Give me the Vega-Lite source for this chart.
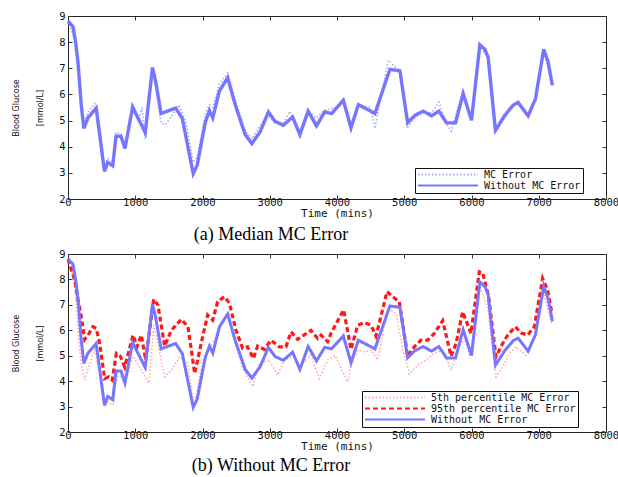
{
  "$schema": "https://vega.github.io/schema/vega-lite/v6.json",
  "autosize": {"type": "pad"},
  "padding": {"left": 11, "top": 10, "right": 0, "bottom": 0},
  "background": "white",
  "bounds": "flush",
  "spacing": 55,
  "config": {
    "view": {"stroke": "#222", "strokeWidth": 1},
    "axis": {"grid": false, "domain": false, "tickSize": -4, "tickColor": "#333", "labelFont": "DejaVu Sans Mono", "labelFontSize": 10.5, "labelColor": "#111", "labelFlush": false, "titleFont": "DejaVu Sans Mono", "titleFontSize": 11, "titleFontWeight": "normal", "titleColor": "#111"}
  },
  "datasets": {
    "blue": [
      {"t":0,"v":8.8},{"t":74,"v":8.6},{"t":113,"v":8.0},{"t":148,"v":7.24},{"t":197,"v":5.6},{"t":236,"v":4.7},{"t":296,"v":5.1},{"t":419,"v":5.48},{"t":542,"v":3.06},{"t":591,"v":3.4},{"t":665,"v":3.27},{"t":714,"v":4.4},{"t":788,"v":4.4},{"t":847,"v":3.93},{"t":961,"v":5.52},{"t":1148,"v":4.54},{"t":1256,"v":7.03},{"t":1305,"v":6.48},{"t":1384,"v":5.27},{"t":1601,"v":5.48},{"t":1700,"v":5.08},{"t":1862,"v":2.97},{"t":1921,"v":3.29},{"t":1995,"v":4.31},{"t":2044,"v":4.95},{"t":2103,"v":5.38},{"t":2153,"v":5.1},{"t":2251,"v":6.13},{"t":2374,"v":6.64},{"t":2488,"v":5.59},{"t":2635,"v":4.46},{"t":2734,"v":4.12},{"t":2857,"v":4.57},{"t":2980,"v":5.33},{"t":3079,"v":4.97},{"t":3202,"v":4.82},{"t":3340,"v":5.14},{"t":3448,"v":4.46},{"t":3571,"v":5.36},{"t":3695,"v":4.8},{"t":3818,"v":5.33},{"t":3920,"v":5.27},{"t":4094,"v":5.78},{"t":4208,"v":4.72},{"t":4317,"v":5.61},{"t":4564,"v":5.27},{"t":4787,"v":6.96},{"t":4936,"v":6.9},{"t":5050,"v":4.92},{"t":5158,"v":5.2},{"t":5282,"v":5.36},{"t":5406,"v":5.18},{"t":5515,"v":5.36},{"t":5629,"v":4.91},{"t":5762,"v":4.91},{"t":5876,"v":6.03},{"t":6000,"v":5.01},{"t":6124,"v":7.9},{"t":6198,"v":7.73},{"t":6248,"v":7.41},{"t":6356,"v":4.63},{"t":6495,"v":5.2},{"t":6619,"v":5.59},{"t":6693,"v":5.69},{"t":6842,"v":5.18},{"t":6950,"v":5.82},{"t":7074,"v":7.73},{"t":7139,"v":7.24},{"t":7203,"v":6.35}
    ],
    "mc": [
      {"t":0,"v":8.8},{"t":113,"v":8.0},{"t":197,"v":5.7},{"t":236,"v":4.9},{"t":296,"v":5.3},{"t":400,"v":5.65},{"t":440,"v":5.4},{"t":542,"v":3.3},{"t":591,"v":3.55},{"t":665,"v":3.4},{"t":714,"v":4.55},{"t":788,"v":4.5},{"t":847,"v":4.1},{"t":961,"v":5.4},{"t":1050,"v":5.0},{"t":1100,"v":5.5},{"t":1148,"v":4.3},{"t":1256,"v":6.8},{"t":1305,"v":6.3},{"t":1384,"v":4.9},{"t":1450,"v":4.85},{"t":1550,"v":5.2},{"t":1650,"v":5.6},{"t":1750,"v":5.0},{"t":1862,"v":3.4},{"t":1921,"v":3.6},{"t":1995,"v":4.6},{"t":2044,"v":5.3},{"t":2103,"v":5.6},{"t":2153,"v":5.5},{"t":2251,"v":6.4},{"t":2374,"v":6.82},{"t":2488,"v":5.8},{"t":2635,"v":4.6},{"t":2734,"v":4.3},{"t":2857,"v":4.8},{"t":2980,"v":5.2},{"t":3079,"v":4.9},{"t":3202,"v":4.9},{"t":3300,"v":5.35},{"t":3448,"v":4.6},{"t":3571,"v":5.4},{"t":3695,"v":5.1},{"t":3818,"v":5.4},{"t":3990,"v":5.5},{"t":4094,"v":5.75},{"t":4208,"v":4.8},{"t":4317,"v":5.6},{"t":4500,"v":5.5},{"t":4564,"v":4.7},{"t":4760,"v":7.3},{"t":4936,"v":6.9},{"t":5050,"v":4.76},{"t":5158,"v":5.1},{"t":5282,"v":5.3},{"t":5406,"v":5.3},{"t":5515,"v":5.7},{"t":5629,"v":4.85},{"t":5700,"v":4.6},{"t":5876,"v":6.2},{"t":6000,"v":5.0},{"t":6124,"v":7.85},{"t":6248,"v":7.4},{"t":6356,"v":4.55},{"t":6495,"v":5.1},{"t":6619,"v":5.6},{"t":6693,"v":5.75},{"t":6842,"v":5.2},{"t":6950,"v":5.85},{"t":7074,"v":7.7},{"t":7203,"v":6.3}
    ],
    "p95": [
      {"t":0,"v":8.8},{"t":99,"v":7.98},{"t":149,"v":7.2},{"t":198,"v":6.53},{"t":248,"v":5.64},{"t":297,"v":5.81},{"t":372,"v":6.14},{"t":421,"v":6.07},{"t":471,"v":5.48},{"t":545,"v":4.1},{"t":605,"v":4.17},{"t":659,"v":4.04},{"t":719,"v":5.09},{"t":778,"v":4.98},{"t":843,"v":4.56},{"t":967,"v":5.81},{"t":1026,"v":5.35},{"t":1091,"v":5.81},{"t":1155,"v":4.83},{"t":1274,"v":7.22},{"t":1338,"v":6.99},{"t":1437,"v":5.38},{"t":1537,"v":6.0},{"t":1685,"v":6.43},{"t":1784,"v":6.14},{"t":1884,"v":4.3},{"t":2002,"v":5.75},{"t":2077,"v":6.6},{"t":2151,"v":6.4},{"t":2225,"v":7.12},{"t":2324,"v":7.32},{"t":2399,"v":7.08},{"t":2498,"v":6.0},{"t":2597,"v":5.29},{"t":2671,"v":5.35},{"t":2756,"v":4.89},{"t":2820,"v":5.38},{"t":2919,"v":5.25},{"t":3018,"v":5.61},{"t":3142,"v":5.35},{"t":3241,"v":5.35},{"t":3316,"v":5.94},{"t":3415,"v":5.64},{"t":3613,"v":6.0},{"t":3712,"v":5.68},{"t":3762,"v":5.81},{"t":3861,"v":5.55},{"t":3911,"v":5.88},{"t":3985,"v":6.25},{"t":4099,"v":6.8},{"t":4208,"v":5.25},{"t":4308,"v":6.2},{"t":4407,"v":6.3},{"t":4506,"v":6.2},{"t":4580,"v":5.77},{"t":4744,"v":7.52},{"t":4828,"v":7.32},{"t":4927,"v":7.12},{"t":5051,"v":4.98},{"t":5150,"v":5.35},{"t":5250,"v":5.61},{"t":5349,"v":5.61},{"t":5448,"v":5.88},{"t":5572,"v":6.38},{"t":5696,"v":4.98},{"t":5770,"v":5.48},{"t":5869,"v":6.73},{"t":5992,"v":5.88},{"t":6116,"v":8.3},{"t":6166,"v":8.27},{"t":6255,"v":7.32},{"t":6364,"v":4.96},{"t":6463,"v":5.48},{"t":6538,"v":5.81},{"t":6652,"v":6.14},{"t":6736,"v":5.9},{"t":6835,"v":5.81},{"t":6934,"v":6.14},{"t":7058,"v":8.04},{"t":7132,"v":7.58},{"t":7196,"v":6.66}
    ],
    "p5": [
      {"t":0,"v":8.8},{"t":99,"v":7.9},{"t":164,"v":5.48},{"t":198,"v":4.7},{"t":248,"v":4.04},{"t":322,"v":4.7},{"t":397,"v":5.22},{"t":446,"v":4.63},{"t":545,"v":2.99},{"t":595,"v":3.19},{"t":669,"v":3.06},{"t":734,"v":4.2},{"t":793,"v":4.17},{"t":843,"v":3.84},{"t":967,"v":4.98},{"t":1091,"v":4.43},{"t":1205,"v":3.93},{"t":1274,"v":6.2},{"t":1338,"v":5.48},{"t":1437,"v":4.17},{"t":1537,"v":4.43},{"t":1661,"v":4.96},{"t":1784,"v":4.7},{"t":1859,"v":3.25},{"t":1903,"v":3.38},{"t":2002,"v":4.83},{"t":2101,"v":5.35},{"t":2176,"v":5.6},{"t":2275,"v":6.2},{"t":2374,"v":6.6},{"t":2473,"v":5.6},{"t":2597,"v":4.5},{"t":2746,"v":3.78},{"t":2845,"v":4.7},{"t":2994,"v":4.83},{"t":3117,"v":4.24},{"t":3217,"v":4.83},{"t":3341,"v":4.96},{"t":3465,"v":4.63},{"t":3613,"v":5.02},{"t":3737,"v":4.1},{"t":3861,"v":4.83},{"t":3975,"v":5.0},{"t":4159,"v":3.97},{"t":4208,"v":4.63},{"t":4308,"v":5.22},{"t":4407,"v":5.15},{"t":4506,"v":5.22},{"t":4605,"v":4.83},{"t":4754,"v":6.86},{"t":4878,"v":6.66},{"t":4968,"v":5.35},{"t":5076,"v":4.28},{"t":5200,"v":4.63},{"t":5324,"v":4.83},{"t":5448,"v":5.09},{"t":5572,"v":5.22},{"t":5696,"v":4.43},{"t":5820,"v":5.35},{"t":5894,"v":5.68},{"t":5980,"v":4.9},{"t":6116,"v":7.71},{"t":6240,"v":6.93},{"t":6364,"v":4.17},{"t":6463,"v":4.56},{"t":6562,"v":5.09},{"t":6662,"v":5.35},{"t":6810,"v":5.02},{"t":6934,"v":5.74},{"t":7058,"v":7.58},{"t":7196,"v":6.24}
    ]
  },
  "resolve": {
    "scale": {"color": "independent", "strokeDash": "independent"},
    "legend": {"color": "independent", "strokeDash": "independent"}
  },
  "vconcat": [
    {
      "width": 538,
      "height": 183,
      "title": {"text": "(a) Median MC Error", "orient": "bottom", "anchor": "middle", "dx": -66, "offset": 7, "font": "Liberation Serif", "fontSize": 18, "fontWeight": "normal", "color": "#000"},
      "resolve": {"axis": {"x": "independent", "y": "independent"}},
      "layer": [
        {
          "data": {"name": "mc"},
          "transform": [{"calculate": "'MC Error'", "as": "s"}],
          "mark": {"type": "line", "strokeWidth": 1.6},
          "encoding": {
            "x": {"field": "t", "type": "quantitative", "scale": {"domain": [0, 8000], "nice": false}, "axis": {"orient": "bottom", "values": [0,1000,2000,3000,4000,5000,6000,7000,8000], "format": "d", "labelPadding": 2, "title": "Time (mins)", "titlePadding": 0}},
            "y": {"field": "v", "type": "quantitative", "scale": {"domain": [2, 9], "nice": false}, "axis": {"orient": "left", "values": [2,3,4,5,6,7,8,9], "format": "d", "labelPadding": 7, "title": ["Blood Glucose", "[mmol/L]"], "titleFont": "Liberation Sans Narrow, DejaVu Sans Condensed, sans-serif", "titleFontSize": 9, "titleLineHeight": 24, "titlePadding": 14}},
            "color": {"field": "s", "type": "nominal", "scale": {"domain": ["MC Error", "Without MC Error"], "range": ["#a9a9ff", "#7676ff"]}, "legend": {"orient": "none", "legendX": 347, "legendY": 152, "title": null, "symbolType": "stroke", "symbolSize": 3600, "symbolStrokeWidth": 2, "clipHeight": 9, "rowPadding": 0, "padding": 2, "strokeColor": "#111", "fillColor": "white", "labelFont": "DejaVu Sans Mono", "labelFontSize": 10, "labelOffset": 5, "labelColor": "#111"}},
            "strokeDash": {"field": "s", "type": "nominal", "scale": {"domain": ["MC Error", "Without MC Error"], "range": [[1.5, 2], [1, 0]]}, "legend": {"orient": "none", "legendX": 347, "legendY": 152, "title": null, "symbolType": "stroke", "symbolSize": 3600, "symbolStrokeWidth": 2, "clipHeight": 9, "rowPadding": 0, "padding": 2, "strokeColor": "#111", "fillColor": "white", "labelFont": "DejaVu Sans Mono", "labelFontSize": 10, "labelOffset": 5, "labelColor": "#111"}}
          }
        },
        {
          "data": {"name": "blue"},
          "transform": [{"calculate": "'Without MC Error'", "as": "s"}],
          "mark": {"type": "line", "strokeWidth": 3.4},
          "encoding": {
            "x": {"field": "t", "type": "quantitative", "axis": {"orient": "top", "values": [0,1000,2000,3000,4000,5000,6000,7000,8000], "labels": false, "title": null}},
            "y": {"field": "v", "type": "quantitative", "axis": {"orient": "right", "values": [2,3,4,5,6,7,8,9], "labels": false, "title": null}},
            "color": {"field": "s", "type": "nominal"},
            "strokeDash": {"field": "s", "type": "nominal"}
          }
        }
      ]
    },
    {
      "width": 538,
      "height": 178,
      "title": {"text": "(b) Without MC Error", "orient": "bottom", "anchor": "middle", "dx": -66, "offset": 5, "font": "Liberation Serif", "fontSize": 18, "fontWeight": "normal", "color": "#000"},
      "resolve": {"axis": {"x": "independent", "y": "independent"}},
      "layer": [
        {
          "data": {"name": "p5"},
          "transform": [{"calculate": "'5th percentile MC Error'", "as": "s"}],
          "mark": {"type": "line", "strokeWidth": 1.6},
          "encoding": {
            "x": {"field": "t", "type": "quantitative", "scale": {"domain": [0, 8000], "nice": false}, "axis": {"orient": "bottom", "values": [0,1000,2000,3000,4000,5000,6000,7000,8000], "format": "d", "labelPadding": 2, "title": "Time (mins)", "titlePadding": 0}},
            "y": {"field": "v", "type": "quantitative", "scale": {"domain": [2, 9], "nice": false}, "axis": {"orient": "left", "values": [2,3,4,5,6,7,8,9], "format": "d", "labelPadding": 7, "title": ["Blood Glucose", "[mmol/L]"], "titleFont": "Liberation Sans Narrow, DejaVu Sans Condensed, sans-serif", "titleFontSize": 9, "titleLineHeight": 24, "titlePadding": 14}},
            "color": {"field": "s", "type": "nominal", "scale": {"domain": ["5th percentile MC Error", "95th percentile MC Error", "Without MC Error"], "range": ["#ffaaaa", "#ff1818", "#7676ff"]}, "legend": {"orient": "none", "legendX": 294, "legendY": 137, "title": null, "symbolType": "stroke", "symbolSize": 3600, "symbolStrokeWidth": 2, "clipHeight": 9, "rowPadding": 0, "padding": 2, "strokeColor": "#111", "fillColor": "white", "labelFont": "DejaVu Sans Mono", "labelFontSize": 10, "labelOffset": 5, "labelColor": "#111"}},
            "strokeDash": {"field": "s", "type": "nominal", "scale": {"domain": ["5th percentile MC Error", "95th percentile MC Error", "Without MC Error"], "range": [[1.5, 2], [5, 3], [1, 0]]}, "legend": {"orient": "none", "legendX": 294, "legendY": 137, "title": null, "symbolType": "stroke", "symbolSize": 3600, "symbolStrokeWidth": 2, "clipHeight": 9, "rowPadding": 0, "padding": 2, "strokeColor": "#111", "fillColor": "white", "labelFont": "DejaVu Sans Mono", "labelFontSize": 10, "labelOffset": 5, "labelColor": "#111"}}
          }
        },
        {
          "data": {"name": "p95"},
          "transform": [{"calculate": "'95th percentile MC Error'", "as": "s"}],
          "mark": {"type": "line", "strokeWidth": 3.2},
          "encoding": {
            "x": {"field": "t", "type": "quantitative", "axis": null},
            "y": {"field": "v", "type": "quantitative", "axis": null},
            "color": {"field": "s", "type": "nominal"},
            "strokeDash": {"field": "s", "type": "nominal"}
          }
        },
        {
          "data": {"name": "blue"},
          "transform": [{"calculate": "'Without MC Error'", "as": "s"}],
          "mark": {"type": "line", "strokeWidth": 3},
          "encoding": {
            "x": {"field": "t", "type": "quantitative", "axis": {"orient": "top", "values": [0,1000,2000,3000,4000,5000,6000,7000,8000], "labels": false, "title": null}},
            "y": {"field": "v", "type": "quantitative", "axis": {"orient": "right", "values": [2,3,4,5,6,7,8,9], "labels": false, "title": null}},
            "color": {"field": "s", "type": "nominal"},
            "strokeDash": {"field": "s", "type": "nominal"}
          }
        }
      ]
    }
  ]
}
